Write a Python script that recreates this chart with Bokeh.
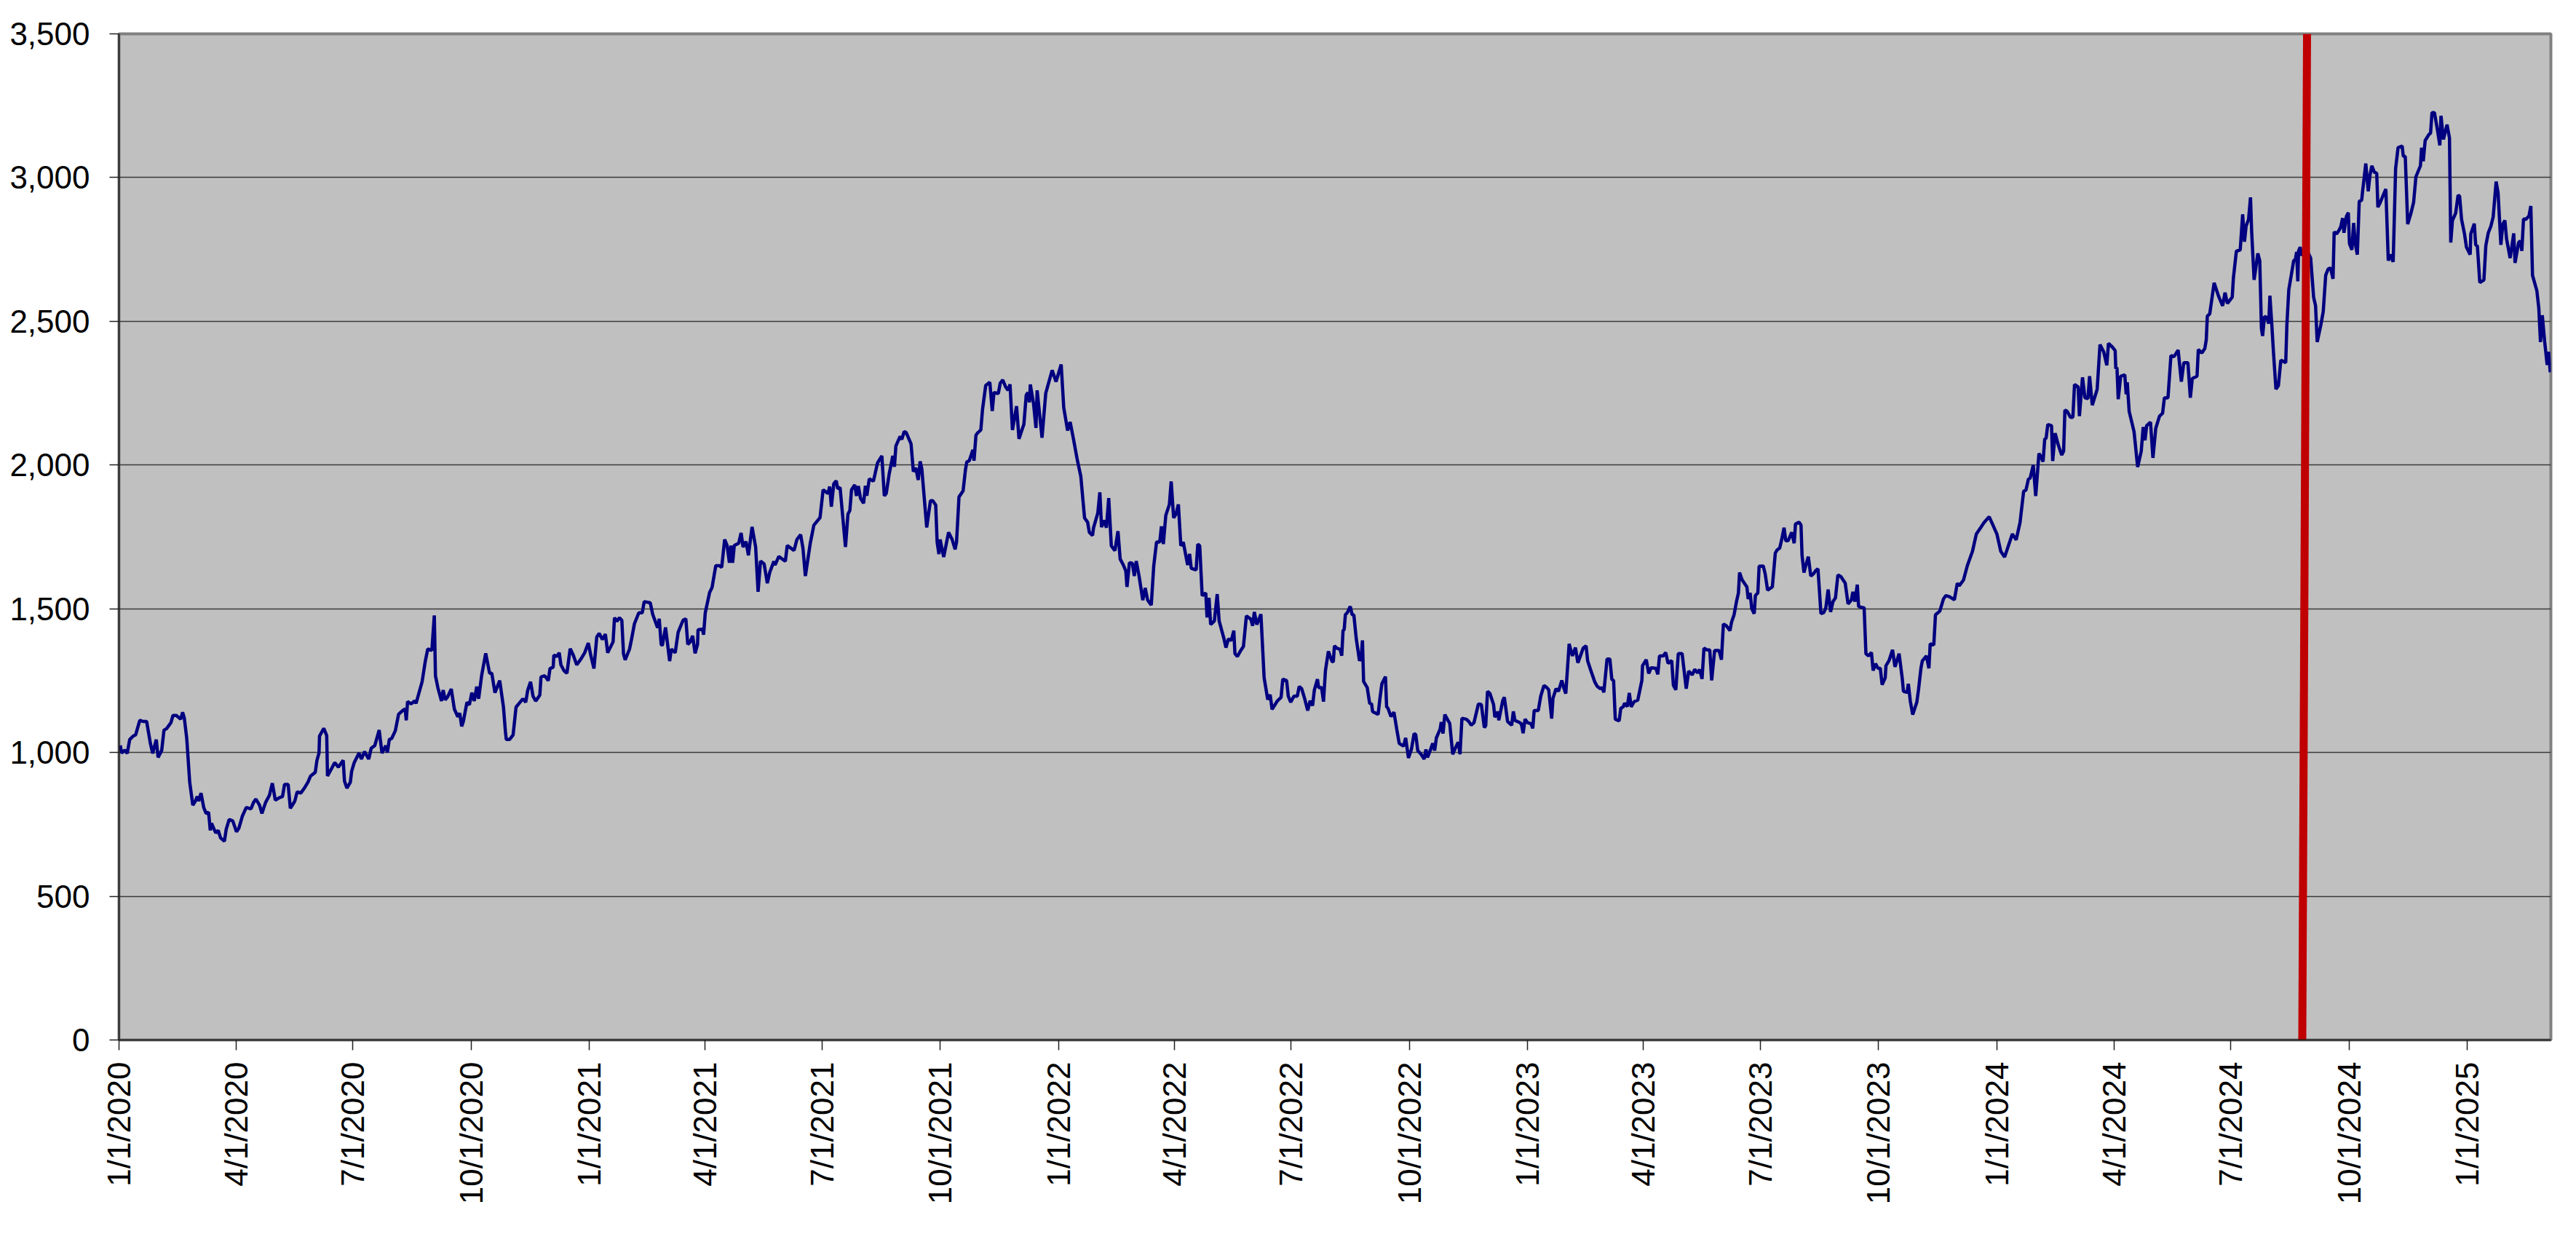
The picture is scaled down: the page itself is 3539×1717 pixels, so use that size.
import math
import pandas as pd
from bokeh.plotting import figure
from bokeh.models import Range1d, FixedTicker, NumeralTickFormatter, ColumnDataSource
from bokeh.embed import file_html
from bokeh.resources import INLINE

# ---------------- data ----------------
start_date = "2020-01-01"

# (days since start_date, index level)
obs_2020 = [
    (1, 1025), (2, 998), (4.5, 1008), (6.4, 997), (8.3, 1045), (11, 1057), (13, 1062), (14.3, 1083),
    (16.2, 1112), (18.7, 1108), (21.5, 1108), (24.4, 1032), (26.2, 997), (29, 1045), (30.4, 983),
    (33.2, 1007), (35, 1078), (37, 1083), (40.4, 1104), (42, 1129), (44.6, 1129), (48, 1116),
    (49.5, 1140), (50.8, 1120), (52.7, 1049), (55, 897), (57.4, 817), (59.3, 830), (60.8, 847),
    (62, 831), (63.8, 859), (65.9, 809), (67.8, 788), (69.7, 792), (71, 729), (72, 754), (74, 733),
    (75.3, 720), (77.2, 729), (79, 703), (82, 691), (83.4, 733), (85.7, 767), (88.5, 762),
    (91.4, 724), (93.3, 737), (96, 779), (99, 809), (102.7, 804), (104.6, 826), (106.5, 838),
    (109.3, 817), (111.2, 788), (114, 826), (117, 851), (119.3, 893), (121.6, 834), (124.4, 842),
    (127.2, 847), (128.8, 889), (131.6, 889), (133.3, 806), (136.7, 830), (138.6, 863),
    (141.4, 859), (144.2, 876), (147, 897), (149, 918), (152.7, 931), (154, 973), (155.6, 998),
    (156, 1057), (159.3, 1084), (161.6, 1059), (162.2, 918), (165, 941), (167.8, 965),
    (170.7, 949), (174.4, 973), (175.4, 901), (177.3, 876), (180, 897), (181, 935), (183, 965),
    (186.7, 998), (188.6, 977), (191, 1003), (194.3, 977), (196.2, 1015), (199, 1024),
    (202.4, 1078), (204.6, 998), (207.5, 1024), (208.8, 1000), (210.3, 1045), (212.2, 1049),
    (215, 1076), (217.5, 1133), (220.7, 1146), (222.6, 1152), (223.5, 1112), (224.5, 1177),
    (227.3, 1169), (230, 1180), (231.1, 1171), (235.8, 1246), (238.3, 1318), (240.2, 1360),
    (243.4, 1355), (245.3, 1477), (246.2, 1267), (248.1, 1225), (250.9, 1179), (252.2, 1217),
    (253.8, 1183), (255.6, 1193), (258.5, 1221), (260.9, 1151), (263.6, 1124), (265.1, 1137),
    (266.6, 1091), (267.9, 1108), (270.7, 1175), (272.6, 1166), (274.5, 1208), (276.4, 1179),
    (278.3, 1229), (279.8, 1187), (282.1, 1267), (285.3, 1345), (288.3, 1276), (290, 1276),
    (292.5, 1208), (296.2, 1250), (299.1, 1158), (300.6, 1074), (301.3, 1045), (303.8, 1045),
    (306.6, 1061), (308.9, 1158), (311.3, 1171), (314.2, 1187), (316.4, 1175), (318, 1217),
    (320.2, 1246), (322.1, 1196), (324.2, 1179), (327.4, 1200), (328.3, 1263), (331.2, 1267),
    (334, 1250), (335.3, 1292), (337.8, 1297), (338.3, 1339), (340.6, 1334), (342.5, 1347),
    (343.8, 1305), (346.3, 1284), (348.5, 1276), (351, 1361), (353.4, 1339), (356.1, 1305),
    (359.5, 1326), (362.3, 1347), (365.1, 1381),
]
obs_2021 = [
    (367, 1339), (369.5, 1292), (371.7, 1402), (373.6, 1414), (376.1, 1393), (378.4, 1412),
    (380.2, 1347), (384.4, 1385), (385.5, 1469), (387.4, 1456), (389.3, 1469), (391.2, 1460),
    (392.5, 1343), (393.8, 1322), (397.2, 1360), (398.7, 1393), (401, 1448), (404.4, 1486),
    (407.1, 1486), (408.6, 1525), (413.3, 1521), (415.2, 1481), (419, 1434), (420.3, 1465),
    (421.8, 1376), (422.7, 1372), (425.2, 1435), (428.4, 1318), (429.7, 1360), (432.7, 1347),
    (435, 1418), (438.8, 1460), (441, 1465), (442.5, 1376), (444.4, 1385), (446.3, 1406),
    (448.2, 1345), (450.1, 1376), (450.5, 1427), (453.9, 1429), (454.8, 1410), (456.1, 1486),
    (459.5, 1557), (461.4, 1574), (464.3, 1650), (467.1, 1650), (468.9, 1644), (471.2, 1741),
    (473.1, 1720), (474.9, 1660), (476.1, 1720), (477.4, 1660), (478.7, 1720), (482.1, 1728),
    (484, 1764), (485.5, 1715), (487.8, 1734), (489.7, 1686), (492.5, 1785), (495.3, 1715),
    (497.2, 1559), (499.1, 1666), (501.9, 1656), (504.4, 1589), (506.3, 1627), (509.5, 1665),
    (510.4, 1652), (513.3, 1682), (518.4, 1665), (519.9, 1720), (525.2, 1703), (527.4, 1741),
    (530.3, 1758), (532.1, 1711), (534, 1614), (537.8, 1728), (540.6, 1791), (545.4, 1817),
    (547.8, 1914), (551.6, 1901), (552.9, 1925), (554.2, 1855), (556.1, 1935), (558, 1945),
    (559.1, 1918), (561, 1922), (565.2, 1715), (567.1, 1829), (568.6, 1842), (569.9, 1914),
    (572.4, 1931), (573.7, 1893), (575.2, 1927), (576.9, 1884), (579.3, 1867), (580.7, 1928),
    (581.8, 1893), (583.7, 1952), (586.9, 1944), (588.2, 1969), (590.1, 2007), (593.5, 2032),
    (595.4, 1893), (596.9, 1901), (599.2, 1969), (602, 2032), (603.3, 1994), (604.4, 2066),
    (607.7, 2100), (609, 2089), (610.9, 2117), (612.4, 2113), (616.2, 2074), (618, 1977),
    (619.9, 1990), (621.8, 1948), (623.3, 2013), (624.6, 1986), (628.4, 1783), (631.3, 1876),
    (633.1, 1876), (635.4, 1861), (636.5, 1732), (637.9, 1690), (638.8, 1741), (641.6, 1680),
    (645.4, 1766), (648.2, 1741), (650.5, 1707), (651.6, 1732), (653.5, 1889), (656.7, 1910),
    (658.6, 1986), (659.6, 2011), (661.5, 2015), (664.3, 2053), (665.2, 2015), (666.7, 2104),
    (668, 2112), (670.5, 2122), (671.8, 2193), (674.3, 2277), (677.5, 2288), (679.4, 2188),
    (680.7, 2252), (684.1, 2249), (685.6, 2285), (687.5, 2296), (689.8, 2272), (691.7, 2260),
    (693.2, 2281), (695.1, 2122), (698.3, 2205), (700.2, 2091), (702.1, 2117), (704, 2142),
    (705.8, 2243), (707.1, 2252), (708.3, 2218), (709, 2280), (711.5, 2214), (713.4, 2129),
    (714.3, 2260), (718.1, 2095), (721, 2250), (726, 2330), (729, 2290),
]
obs_2022 = [
    (733, 2350), (735, 2200), (738, 2120), (740, 2150), (743, 2080), (745.5, 2019), (748.3, 1960),
    (751.2, 1816), (753.6, 1801), (754.9, 1766), (757.4, 1755), (758.2, 1782), (761.5, 1833),
    (763.1, 1905), (764.4, 1784), (766.3, 1808), (768.2, 1782), (770, 1885), (772, 1719),
    (774.8, 1702), (777.2, 1770), (778.9, 1673), (781.4, 1652), (783.3, 1631), (784.2, 1576),
    (786.1, 1660), (788.4, 1658), (789.9, 1614), (791.4, 1666), (793.6, 1614), (796.5, 1530),
    (798.4, 1572), (800.3, 1530), (803.1, 1513), (805, 1648), (807.2, 1732), (809.7, 1732),
    (811, 1787), (812.5, 1725), (814.4, 1825), (817.2, 1863), (818.6, 1943), (820.5, 1816),
    (822.3, 1829), (824.2, 1863), (826.1, 1719), (828, 1732), (831.4, 1652), (832.9, 1691),
    (834.2, 1641), (838, 1635), (839.3, 1725), (840.8, 1719), (842.7, 1546), (845.5, 1555),
    (846.5, 1470), (848, 1538), (849.3, 1445), (852.2, 1458), (854.4, 1551), (855.9, 1458),
    (859.7, 1395), (861.2, 1365), (863.1, 1395), (865.4, 1390), (867.3, 1424), (868.2, 1344),
    (870.1, 1334), (873, 1357), (874.8, 1369), (877.1, 1475), (880.5, 1464), (882, 1441),
    (883.3, 1489), (885.2, 1445), (888.4, 1481), (890.9, 1260), (893.7, 1184), (895.6, 1201),
    (897.1, 1150), (901.3, 1180), (904.1, 1192), (905.4, 1255), (908.4, 1250), (909.7, 1196),
    (911.6, 1175), (914.1, 1196), (916.7, 1196), (918.2, 1230), (920.1, 1222), (922.4, 1188),
    (924.8, 1146), (926.7, 1180), (928.6, 1163), (930, 1218), (932.4, 1255), (933.3, 1226),
    (935.6, 1226), (937.1, 1177), (938.6, 1285), (940.9, 1352), (943.7, 1317), (944.7, 1315),
    (945.6, 1371), (947.5, 1363), (950, 1359), (951.3, 1337), (952.3, 1424), (953.2, 1428),
    (954.1, 1479), (955.7, 1487), (957.9, 1508), (959.4, 1479), (960.7, 1479), (962.6, 1395),
    (965.1, 1319), (966.4, 1331), (967.4, 1390), (968.3, 1247), (971.1, 1226), (973, 1171),
    (974.5, 1169), (975.3, 1142), (979.6, 1133), (981, 1188), (982.5, 1239), (985.3, 1264),
    (986.2, 1159), (987.2, 1154), (989.6, 1125), (991.9, 1140), (994.2, 1078), (996, 1032),
    (999.4, 1022), (1001, 1051), (1003.2, 981), (1005.5, 1011), (1007.6, 1066), (1008.9, 1062),
    (1010.4, 1007), (1013, 994), (1015.5, 977), (1016.8, 1011), (1018, 983), (1019.8, 1003),
    (1022.1, 1032), (1023.6, 1007), (1024.9, 1051), (1027.8, 1081), (1028.7, 1106),
    (1030.1, 1066), (1031.5, 1132), (1035.3, 1101), (1037.6, 994), (1040, 1019), (1041.9, 1036),
    (1043.3, 994), (1044.8, 1119), (1048.2, 1116), (1050.1, 1108), (1052, 1095), (1054.2, 1104),
    (1057.6, 1169), (1059.9, 1167), (1062.2, 1087), (1063.3, 1093), (1064.7, 1213),
    (1066.6, 1205), (1069.4, 1167), (1070.4, 1123), (1072.8, 1142), (1073.5, 1112),
    (1076.5, 1180), (1077.8, 1192), (1080.3, 1108), (1083.5, 1095), (1084.8, 1143), (1086, 1112),
    (1089.7, 1104), (1091, 1100), (1092.4, 1067), (1093.9, 1116),
]
obs_2023 = [
    (1095.8, 1104), (1098.6, 1100), (1099.9, 1084), (1101, 1146), (1104.2, 1146), (1106.1, 1196),
    (1108.6, 1233), (1110.8, 1226), (1112.3, 1218), (1114.6, 1118), (1115.6, 1188), (1118, 1222),
    (1119.9, 1213), (1122.5, 1251), (1124, 1226), (1125.6, 1205), (1128.2, 1378), (1130.7, 1336),
    (1133.1, 1365), (1135, 1312), (1137.3, 1340), (1139.1, 1363), (1141.4, 1371), (1142.6, 1319),
    (1144.8, 1289), (1148.2, 1245), (1150.1, 1230), (1152.4, 1222), (1153.9, 1226),
    (1155.2, 1209), (1157.7, 1325), (1159.9, 1325), (1161.4, 1255), (1162.8, 1250),
    (1164.1, 1116), (1167.1, 1110), (1168.4, 1154), (1170.3, 1159), (1171.3, 1171),
    (1173.5, 1160), (1175, 1207), (1176.5, 1159), (1178.8, 1177), (1181.6, 1182),
    (1184.8, 1251), (1185.3, 1302), (1188.2, 1323), (1190.1, 1275), (1192, 1295),
    (1195.7, 1293), (1197.2, 1272), (1198.5, 1336), (1201.4, 1336), (1203.3, 1348),
    (1205.2, 1310), (1208, 1320), (1209.3, 1234), (1211.2, 1218), (1213.1, 1344), (1216.1, 1344),
    (1219.3, 1222), (1221.2, 1283), (1224, 1270), (1225.9, 1289), (1228.2, 1277), (1229.7, 1289),
    (1231.6, 1256), (1233.1, 1363), (1235.4, 1357), (1237.6, 1357), (1239.1, 1251),
    (1241.4, 1355), (1244.8, 1355), (1246.7, 1323), (1248.2, 1447), (1250.5, 1441),
    (1253.3, 1424), (1254.6, 1454), (1256.5, 1479), (1258.4, 1525), (1259.9, 1555),
    (1260.8, 1626), (1262.7, 1601), (1266.5, 1576), (1267.5, 1534), (1269, 1555), (1270.3, 1500),
    (1272.2, 1483), (1273.1, 1546), (1275, 1555), (1276, 1648), (1279.2, 1649), (1280.7, 1622),
    (1282.6, 1565), (1286.3, 1576), (1288.6, 1694), (1290.1, 1705), (1292, 1711),
    (1293.5, 1739), (1295.4, 1782), (1296.7, 1737), (1298.6, 1737), (1301.4, 1766),
    (1303.3, 1728), (1304.3, 1795), (1307.1, 1801), (1308.6, 1791), (1309.4, 1686),
    (1310.9, 1626), (1312.4, 1652), (1314.3, 1681), (1316.2, 1614), (1318.4, 1622),
    (1319.9, 1632), (1321.8, 1639), (1324.1, 1483), (1326.3, 1487), (1327.9, 1503),
    (1329.7, 1567), (1331.6, 1489), (1333.5, 1525), (1335.4, 1538), (1337.3, 1618),
    (1339.6, 1612), (1343, 1589), (1345.2, 1517), (1347.7, 1530), (1349, 1559), (1350.5, 1525),
    (1352.4, 1584), (1353.4, 1508), (1356.6, 1504), (1357.7, 1504), (1359.1, 1344), (1361, 1336),
    (1363.4, 1348), (1364.7, 1285), (1366.6, 1309), (1368.5, 1293), (1370.3, 1293),
    (1371.7, 1236), (1374.1, 1260), (1374.7, 1302), (1377, 1319), (1379.8, 1357), (1381.7, 1298),
    (1384.9, 1344), (1387.3, 1260), (1388.3, 1213), (1391.1, 1209), (1392.1, 1239),
    (1393.6, 1180), (1395.5, 1132), (1398.7, 1175), (1400, 1218), (1401.9, 1293), (1403, 1319),
    (1406.2, 1336), (1408.1, 1293), (1409.1, 1378), (1411.9, 1374), (1413.2, 1479),
    (1416.6, 1492), (1419.4, 1534), (1421.3, 1546), (1424.1, 1542), (1427.9, 1531),
    (1430.2, 1589), (1431.7, 1580), (1435, 1600), (1438, 1650), (1442, 1700), (1445, 1760),
    (1448, 1780), (1451, 1800), (1455, 1820), (1458, 1790),
]
obs_2024 = [
    (1461, 1760), (1464, 1700), (1467, 1680), (1470, 1720), (1473, 1760), (1476, 1740),
    (1479, 1800), (1481.8, 1909), (1483.6, 1913), (1485.5, 1951), (1486.9, 1955), (1489.3, 2000),
    (1491.2, 1892), (1493.7, 2040), (1495, 2031), (1496.9, 2012), (1498.2, 2090), (1499.3, 2094),
    (1500.6, 2141), (1503.5, 2137), (1504.4, 2014), (1506.3, 2111), (1508.8, 2069),
    (1511.4, 2035), (1512.9, 2048), (1513.9, 2191), (1515.7, 2187), (1518.2, 2166),
    (1520.1, 2166), (1521.4, 2280), (1524.2, 2272), (1525.2, 2170), (1527.6, 2305),
    (1529.5, 2234), (1531.8, 2231), (1533.1, 2309), (1535.2, 2208), (1539, 2263), (1541.2, 2419),
    (1544.1, 2394), (1546.5, 2347), (1547.8, 2423), (1550.7, 2411), (1553, 2398), (1553.5, 2335),
    (1554.4, 2339), (1555.4, 2229), (1557.3, 2309), (1560.5, 2314), (1561.6, 2246),
    (1562.4, 2288), (1563.9, 2187), (1567.7, 2116), (1570.5, 1993), (1573.3, 2048),
    (1574.8, 2132), (1576.2, 2086), (1577.5, 2137), (1580.5, 2149), (1582.4, 2025),
    (1584.6, 2128), (1587.5, 2170), (1589.9, 2180), (1591.3, 2234), (1594.1, 2234),
    (1596.4, 2381), (1598.8, 2377), (1602, 2400), (1604.5, 2290), (1606.4, 2356), (1609.6, 2356),
    (1611.5, 2234), (1613, 2301), (1616.7, 2309), (1617.7, 2402), (1620.5, 2390), (1622.8, 2406),
    (1623.9, 2436), (1624.7, 2518), (1626.6, 2526), (1630, 2634), (1633.4, 2588), (1636.6, 2554),
    (1638.5, 2600), (1640.3, 2562), (1644.1, 2584), (1645, 2651), (1647.3, 2744), (1650.3, 2748),
    (1652.2, 2872), (1653.6, 2777), (1654.9, 2832), (1656.8, 2855), (1658.3, 2931),
    (1659.2, 2813), (1661.1, 2644), (1664, 2736), (1665.5, 2711), (1666.8, 2475), (1667.7, 2449),
    (1669.2, 2517), (1671.1, 2513), (1672.5, 2492), (1673.4, 2589), (1674.9, 2487),
    (1676.2, 2390), (1678.1, 2264), (1680, 2276), (1681.9, 2365), (1683.8, 2361), (1685.7, 2356),
    (1686.6, 2487), (1688.1, 2610), (1690, 2660), (1691.9, 2711), (1693.2, 2715), (1694.2, 2741),
    (1695.1, 2639), (1695.7, 2745), (1697, 2758), (1698.3, 2728), (1700.5, 2760), (1702.5, 2745),
    (1705.1, 2720), (1707.4, 2584), (1708.9, 2555), (1710.2, 2428), (1713, 2487), (1714.9, 2534),
    (1716.8, 2660), (1718.7, 2682), (1720.6, 2686), (1722.5, 2648), (1723.4, 2811),
    (1725.3, 2804), (1727.2, 2817), (1728.5, 2829), (1730, 2859), (1731, 2808), (1732.9, 2865),
    (1734.4, 2878), (1735.3, 2770), (1737.2, 2749), (1738.5, 2842), (1739.9, 2770),
    (1741.4, 2732), (1742.9, 2918), (1744.8, 2921), (1745.5, 2952), (1748, 3049), (1749.9, 2952),
    (1751.2, 3007), (1752.7, 3041), (1754.6, 3019), (1756.5, 3015), (1757.4, 2897),
    (1759.3, 2914), (1761.2, 2935), (1763.6, 2960), (1765.5, 2711), (1766.9, 2732),
    (1769.3, 2707), (1771.2, 3032), (1773.1, 3104), (1776.3, 3110), (1777.2, 3074),
    (1778.7, 3074), (1780.6, 2838), (1782.9, 2872), (1785.2, 2914), (1787, 3003), (1790.5, 3041),
    (1791.4, 3104), (1792.7, 3057), (1794.2, 3129), (1797.1, 3150), (1798.4, 3155),
    (1799.5, 3226), (1801.4, 3226), (1803.7, 3167), (1805.6, 3112), (1806.5, 3215),
    (1808.4, 3133), (1811.2, 3184), (1813.1, 3138), (1814.1, 2774), (1815.4, 2851),
    (1817.9, 2876), (1819.8, 2939), (1821, 2935), (1822.5, 2855), (1824.8, 2804), (1826.3, 2758),
]
obs_2025 = [
    (1829.2, 2732), (1829.7, 2804), (1832.4, 2840), (1833.5, 2766), (1834.8, 2762),
    (1836.7, 2635), (1839.9, 2644), (1841.4, 2764), (1843.3, 2808), (1845.2, 2829),
    (1847.1, 2863), (1849.4, 2986), (1850.9, 2948), (1853.1, 2766), (1854.6, 2838),
    (1856.2, 2851), (1857.5, 2787), (1860.3, 2720), (1863.1, 2806), (1864.1, 2703),
    (1866.9, 2774), (1868.2, 2780), (1869.4, 2745), (1870.7, 2856), (1872.6, 2855), (1875, 2867),
    (1876.4, 2901), (1877.7, 2660), (1881.1, 2606), (1882.6, 2546), (1883.9, 2428),
    (1885.3, 2521), (1887.1, 2432), (1889.1, 2348), (1890.2, 2394), (1891.5, 2323),
]

tick_dates = ["2020-01-01", "2020-04-01", "2020-07-01", "2020-10-01",
              "2021-01-01", "2021-04-01", "2021-07-01", "2021-10-01",
              "2022-01-01", "2022-04-01", "2022-07-01", "2022-10-01",
              "2023-01-01", "2023-04-01", "2023-07-01", "2023-10-01",
              "2024-01-01", "2024-04-01", "2024-07-01", "2024-10-01",
              "2025-01-01"]
tick_labels = ["1/1/2020", "4/1/2020", "7/1/2020", "10/1/2020",
               "1/1/2021", "4/1/2021", "7/1/2021", "10/1/2021",
               "1/1/2022", "4/1/2022", "7/1/2022", "10/1/2022",
               "1/1/2023", "4/1/2023", "7/1/2023", "10/1/2023",
               "1/1/2024", "4/1/2024", "7/1/2024", "10/1/2024",
               "1/1/2025"]
y_ticks = [0, 500, 1000, 1500, 2000, 2500, 3000, 3500]

# vertical event marker
event_dates = ["2024-08-25 14:00", "2024-08-29 07:00"]
event_levels = [0, 3500]

x_end_offset = 1892  # axis ends at the last observation

# ---------------- build ----------------
obs = obs_2020 + obs_2021 + obs_2022 + obs_2023 + obs_2024 + obs_2025
base = pd.Timestamp(start_date)
xs = base + pd.to_timedelta([d for d, _ in obs], unit="D")
ys = [v for _, v in obs]
src = ColumnDataSource(dict(x=xs, y=ys))

tick_ms = [int(pd.Timestamp(d).value // 10**6) for d in tick_dates]

FONT = "Liberation Sans"
FSIZE = "44px"

p = figure(
    x_axis_type="datetime",
    frame_width=3341, frame_height=1382,
    min_border_left=163, min_border_right=19, min_border_top=46, min_border_bottom=273,
    x_range=Range1d(start=base, end=base + pd.Timedelta(days=x_end_offset)),
    y_range=Range1d(start=0, end=3500),
    output_backend="svg", toolbar_location=None,
)
p.background_fill_color = "#C0C0C0"
p.border_fill_color = "white"
p.outline_line_color = "#808080"
p.outline_line_width = 4

p.xgrid.visible = False
p.ygrid.ticker = FixedTicker(ticks=y_ticks)
p.ygrid.grid_line_color = "#3a3a3a"
p.ygrid.grid_line_width = 1.6

ya = p.yaxis[0]
ya.ticker = FixedTicker(ticks=y_ticks)
ya.formatter = NumeralTickFormatter(format="0,0")
ya.major_label_text_font = FONT
ya.major_label_text_font_size = FSIZE
ya.major_label_text_color = "black"
ya.major_tick_out = 13
ya.major_tick_in = 0
ya.minor_tick_out = 0
ya.minor_tick_in = 0
ya.major_tick_line_color = "#202020"
ya.major_tick_line_width = 1.5
ya.axis_line_color = "#202020"
ya.axis_line_width = 2
ya.major_label_standoff = 27

xa = p.xaxis[0]
xa.ticker = FixedTicker(ticks=tick_ms)
xa.major_label_overrides = dict(zip(tick_ms, tick_labels))
xa.major_label_orientation = math.pi / 2
xa.major_label_text_font = FONT
xa.major_label_text_font_size = FSIZE
xa.major_label_text_color = "black"
xa.major_tick_out = 14
xa.major_tick_in = 0
xa.minor_tick_out = 0
xa.minor_tick_in = 0
xa.major_tick_line_color = "#202020"
xa.major_tick_line_width = 1.5
xa.axis_line_color = "#202020"
xa.axis_line_width = 2
xa.major_label_standoff = 16

p.line("x", "y", source=src, line_color="#000080", line_width=4.5)
p.line(pd.to_datetime(event_dates), event_levels, line_color="#C00000", line_width=11)

open("out.html", "w").write(file_html(p, INLINE))
